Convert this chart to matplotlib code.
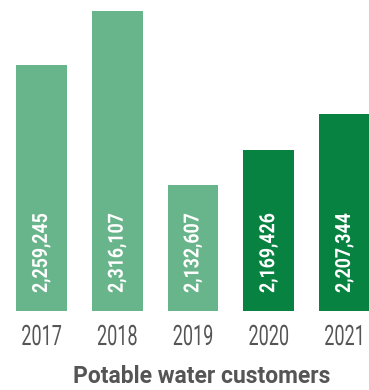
import matplotlib
matplotlib.use("Agg")
import matplotlib.pyplot as plt
from matplotlib import patheffects
from matplotlib.transforms import Affine2D

years = ["2017", "2018", "2019", "2020", "2021"]
customers = [2259245, 2316107, 2132607, 2169426, 2207344]
bar_colors = ["#69b58b", "#69b58b", "#69b58b", "#088240", "#088240"]
title = "Potable water customers"


class Reshape(patheffects.AbstractPathEffect):
    # no condensed face is installed, so squeeze / stretch the glyph outlines instead
    def __init__(self, sx=1.0, sy=1.0, anchor="center"):
        super().__init__()
        self.sx = sx
        self.sy = sy
        self.anchor = anchor

    def draw_path(self, renderer, gc, tpath, affine, rgbFace=None):
        xs = tpath.vertices[:, 0]
        if self.anchor == "start":
            x0 = xs.min()
        else:
            x0 = (xs.min() + xs.max()) / 2
        t = Affine2D().translate(-x0, 0).scale(self.sx, self.sy).translate(x0, 0)
        renderer.draw_path(gc, tpath, t + affine, rgbFace)


fig = plt.figure(figsize=(3.69, 3.90), dpi=100)
ax = fig.add_axes([0, 79 / 390, 1, 311 / 390])

x = list(range(len(years)))
ax.bar(x, customers, width=0.67, color=bar_colors)
ax.set_xlim(-41.5 / 75.75, (369 - 41.5) / 75.75)
ax.set_ylim(2000000, 2327700)

for i, v in enumerate(customers):
    ax.annotate(f"{v:,}", (i, 2000000), xytext=(0, 13), textcoords="offset points",
                rotation=90, ha="center", va="bottom", color="white",
                fontsize=15, fontweight="bold", family="Roboto",
                path_effects=[Reshape(sx=0.85, anchor="start")])

ax.set_xticks(x, years)
ax.set_yticks([])
ax.tick_params(length=0, pad=24.5, labelsize=13, labelcolor="#555555")
for lab in ax.get_xticklabels():
    lab.set_fontfamily("Roboto")
    lab.set_verticalalignment("baseline")
    lab.set_path_effects([Reshape(sy=1.56)])

for s in ax.spines.values():
    s.set_visible(False)

fig.text(201.5 / 369, 7 / 390, title, ha="center", va="baseline",
         fontsize=16.5, fontweight="bold", color="#555555", family="Roboto")

fig.savefig("out.png", dpi=100)
